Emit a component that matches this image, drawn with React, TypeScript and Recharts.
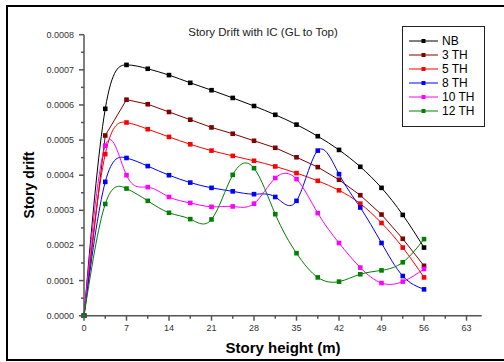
import React from "react"
import { LineChart, Line, XAxis, YAxis } from "recharts"

// story heights (m), 16 storeys of 3.5 m
const heights = [0, 3.5, 7, 10.5, 14, 17.5, 21, 24.5, 28, 31.5, 35, 38.5, 42, 45.5, 49, 52.5, 56]

// story drift values, x 1e-4
const nb = [0, 5.89, 7.14, 7.03, 6.85, 6.63, 6.42, 6.2, 5.97, 5.72, 5.44, 5.11, 4.72, 4.24, 3.64, 2.87, 1.94]
const th3 = [0, 5.13, 6.15, 6.02, 5.8, 5.58, 5.36, 5.18, 4.98, 4.78, 4.51, 4.23, 3.87, 3.43, 2.88, 2.19, 1.42]
const th5 = [0, 4.6, 5.5, 5.31, 5.09, 4.88, 4.7, 4.55, 4.41, 4.25, 4.06, 3.84, 3.57, 3.19, 2.64, 1.94, 1.09]
const th8 = [0, 3.81, 4.49, 4.26, 4.0, 3.79, 3.64, 3.54, 3.46, 3.38, 3.27, 4.7, 4.03, 3.08, 2.07, 1.13, 0.75]
const th10 = [0, 4.84, 4.0, 3.66, 3.38, 3.21, 3.1, 3.11, 3.19, 3.92, 3.89, 2.92, 2.07, 1.37, 0.93, 0.97, 1.33]
const th12 = [0, 3.18, 3.62, 3.27, 2.93, 2.75, 2.74, 4.01, 4.2, 2.89, 1.78, 1.09, 0.97, 1.18, 1.29, 1.52, 2.18]

const xTicks = [0, 3.5, 7, 10.5, 14, 17.5, 21, 24.5, 28, 31.5, 35, 38.5, 42, 45.5, 49, 52.5, 56, 59.5, 63]
const xMajor = [0, 7, 14, 21, 28, 35, 42, 49, 56, 63]
const yTicks = [0, 0.00005, 0.0001, 0.00015, 0.0002, 0.00025, 0.0003, 0.00035, 0.0004, 0.00045, 0.0005, 0.00055, 0.0006, 0.00065, 0.0007, 0.00075, 0.0008]

const series = [
  { key: "nb", name: "NB", values: nb, color: "#000000", type: "natural" },
  { key: "th3", name: "3 TH", values: th3, color: "#800000", type: "linear" },
  { key: "th5", name: "5 TH", values: th5, color: "#ff0000", type: "natural" },
  { key: "th8", name: "8 TH", values: th8, color: "#0000ff", type: "natural" },
  { key: "th10", name: "10 TH", values: th10, color: "#ff00ff", type: "natural" },
  { key: "th12", name: "12 TH", values: th12, color: "#008000", type: "natural" },
]

const data = heights.map((h, i) => {
  const row: any = { h }
  series.forEach(s => { row[s.key] = s.values[i] * 1e-4 })
  return row
})

const FONT = "'Liberation Sans', Arial, sans-serif"
const AXIS = "#555555"

const XTick = (props: any) => {
  const { x, y, payload } = props
  const major = xMajor.includes(payload.value)
  return (
    <g>
      <line x1={x} x2={x} y1={y} y2={y + (major ? 5 : 3)} stroke={AXIS} strokeWidth={1.5} />
      {major && (
        <text x={x} y={y + 15} textAnchor="middle" fontSize={9} fontFamily={FONT} fill="#333">
          {payload.value}
        </text>
      )}
    </g>
  )
}

const YTick = (props: any) => {
  const { x, y, payload } = props
  const major = Math.round(payload.value * 1e5) % 10 === 0
  return (
    <g>
      <line x1={x} x2={x - (major ? 5 : 3)} y1={y} y2={y} stroke={AXIS} strokeWidth={1.5} />
      {major && (
        <text x={x - 10} y={y + 3} textAnchor="end" fontSize={9} fontFamily={FONT} fill="#333">
          {payload.value.toFixed(4)}
        </text>
      )}
    </g>
  )
}

const squareDot = (color: string, name: string) => (props: any) => {
  const { cx, cy, index } = props
  return <rect key={`${name}-${index}`} x={cx - 2.3} y={cy - 2.3} width={4.6} height={4.6} fill={color} />
}

export default function App() {
  return (
    <div style={{ position: "absolute", left: 0, top: 0, width: 504, height: 362, overflow: "hidden", background: "#fff", fontFamily: FONT }}>
      <div style={{ position: "absolute", left: 6, top: 5, width: 520, height: 356, border: "2px solid #000", boxSizing: "border-box" }} />
      <LineChart width={504} height={362} data={data} margin={{ top: 34.7, right: 22.3, bottom: 16.3, left: 0 }}>
        <XAxis
          dataKey="h"
          type="number"
          domain={[0, 65.5]}
          ticks={xTicks}
          interval={0}
          height={30}
          tickSize={0}
          tickMargin={0}
          tickLine={false}
          tick={<XTick />}
          axisLine={{ stroke: AXIS, strokeWidth: 1.5 }}
        />
        <YAxis
          type="number"
          domain={[0, 0.0008]}
          ticks={yTicks}
          interval={0}
          width={84}
          tickSize={0}
          tickMargin={0}
          tickLine={false}
          tick={<YTick />}
          axisLine={{ stroke: AXIS, strokeWidth: 1.5 }}
        />
        {series.map(s => (
          <Line
            key={s.key}
            dataKey={s.key}
            name={s.name}
            type={s.type as any}
            stroke={s.color}
            strokeWidth={1}
            dot={squareDot(s.color, s.key)}
            activeDot={false}
            isAnimationActive={false}
          />
        ))}
      </LineChart>
      <div style={{ position: "absolute", left: 0, width: 526, top: 26, textAlign: "center", fontSize: 11.5, color: "#222" }}>
        Story Drift with IC (GL to Top)
      </div>
      <div style={{ position: "absolute", left: 283, top: 347, transform: "translate(-50%, -50%)", whiteSpace: "nowrap", fontSize: 15, fontWeight: "bold", color: "#000" }}>
        Story height (m)
      </div>
      <div style={{ position: "absolute", left: 29, top: 185, transform: "translate(-50%, -50%) rotate(-90deg)", whiteSpace: "nowrap", fontSize: 14, fontWeight: "bold", color: "#000" }}>
        Story drift
      </div>
      <div style={{ position: "absolute", left: 402, top: 26, width: 83, height: 101, border: "1px solid #222", boxSizing: "border-box", background: "#fff" }}>
        {series.map((s, i) => (
          <div key={s.key} style={{ position: "absolute", left: 0, top: 7 + i * 14, height: 14, display: "flex", alignItems: "center" }}>
            <svg width={36} height={14} style={{ display: "block" }}>
              <line x1={6} x2={35} y1={7} y2={7} stroke={s.color} strokeWidth={1} />
              <rect x={18.5} y={5} width={4} height={4} fill={s.color} />
            </svg>
            <span style={{ marginLeft: 3, fontSize: 12, color: "#000", lineHeight: "14px" }}>{s.name}</span>
          </div>
        ))}
      </div>
    </div>
  )
}
